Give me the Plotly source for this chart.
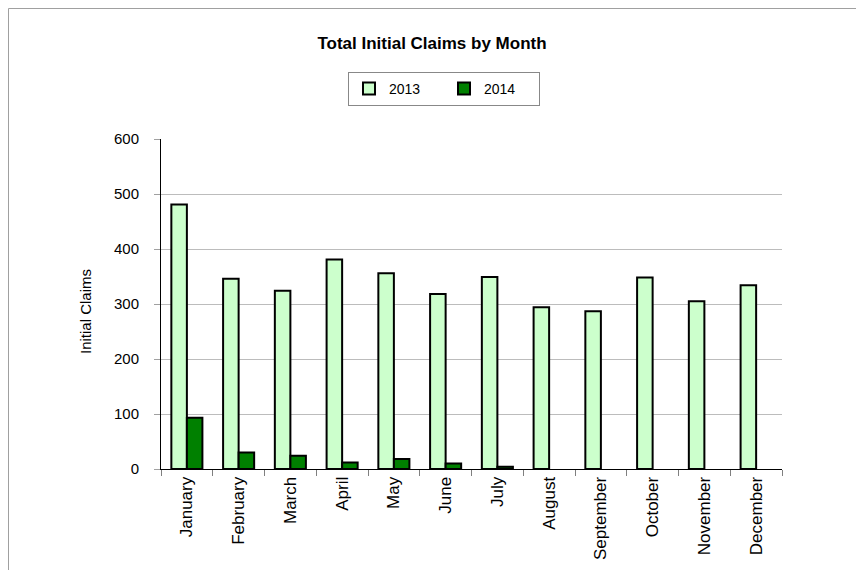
import plotly.graph_objects as go

months = ["January", "February", "March", "April", "May", "June",
          "July", "August", "September", "October", "November", "December"]
claims_2013 = [481, 346, 324, 381, 356, 318, 349, 294, 287, 348, 305, 334]
claims_2014 = [93, 30, 24, 12, 18, 10, 4, None, None, None, None, None]
y_tick_values = [0, 100, 200, 300, 400, 500, 600]

FONT = "Liberation Sans, Arial, sans-serif"

W, H = 867, 580
OFF = 8  # page body margin offset
# target plot area on screen: x 161..782, y 139..469
L = 161 - OFF
T = 139 - OFF
R = W - (782 - OFF)
B = H - (469 - OFF)
pw, ph = W - L - R, H - T - B

def px_x(p):
    return (p - OFF - L) / pw

def px_y(p):
    return (H - B - (p - OFF)) / ph

fig = go.Figure()
fig.add_trace(go.Bar(
    name="2013", x=months, y=claims_2013,
    marker=dict(color="#CCFFCC", line=dict(color="black", width=2)),
))
fig.add_trace(go.Bar(
    name="2014", x=months, y=claims_2014,
    marker=dict(color="#008000", line=dict(color="black", width=2)),
))

border = dict(color="#a0a0a0", width=1)

fig.update_layout(
    width=W, height=H,
    margin=dict(l=L, r=R, t=T, b=B, autoexpand=False),
    paper_bgcolor="white", plot_bgcolor="white",
    barmode="group", bargap=0.4, bargroupgap=0,
    title=dict(text="<b>Total Initial Claims by Month</b>",
               font=dict(family=FONT, size=17, color="black"),
               x=(432 - OFF) / W, xanchor="center", xref="container",
               y=1 - (43 - OFF) / H, yanchor="middle", yref="container"),
    legend=dict(orientation="h", x=px_x(444), xanchor="center",
                y=px_y(72), yanchor="top",
                bordercolor="#888888", borderwidth=1, bgcolor="white",
                font=dict(family=FONT, size=14, color="black"),
                itemwidth=30, entrywidth=50),
    showlegend=True,
    xaxis=dict(type="category", showline=True, linecolor="black", linewidth=1,
               ticks="outside", tickson="boundaries", ticklen=6, tickcolor="#808080",
               tickangle=-90, tickfont=dict(family=FONT, size=17, color="black"),
               showgrid=False, zeroline=False, automargin=False),
    yaxis=dict(range=[0, 600], tickvals=y_tick_values, showline=True,
               linecolor="black", linewidth=1, ticks="outside", ticklen=6,
               tickcolor="#a0a0a0", showgrid=True, gridcolor="#bcbcbc", gridwidth=1,
               zeroline=False, ticklabelstandoff=12,
               tickfont=dict(family=FONT, size=15, color="black"),
               automargin=False),
    annotations=[dict(text="Initial Claims", textangle=-90, showarrow=False,
                      xref="paper", yref="paper", x=px_x(85), y=px_y(312),
                      xanchor="center", yanchor="middle",
                      font=dict(family=FONT, size=15, color="black"))],
    shapes=[
        dict(type="line", xref="paper", yref="paper",
             x0=px_x(OFF + 0.5), x1=px_x(OFF + 0.5),
             y0=px_y(570), y1=px_y(OFF + 0.5),
             line=border, layer="below"),
        dict(type="line", xref="paper", yref="paper",
             x0=px_x(OFF + 0.5), x1=px_x(856),
             y0=px_y(OFF + 0.5), y1=px_y(OFF + 0.5),
             line=border, layer="below"),
    ],
)

fig.write_html("out.html")
